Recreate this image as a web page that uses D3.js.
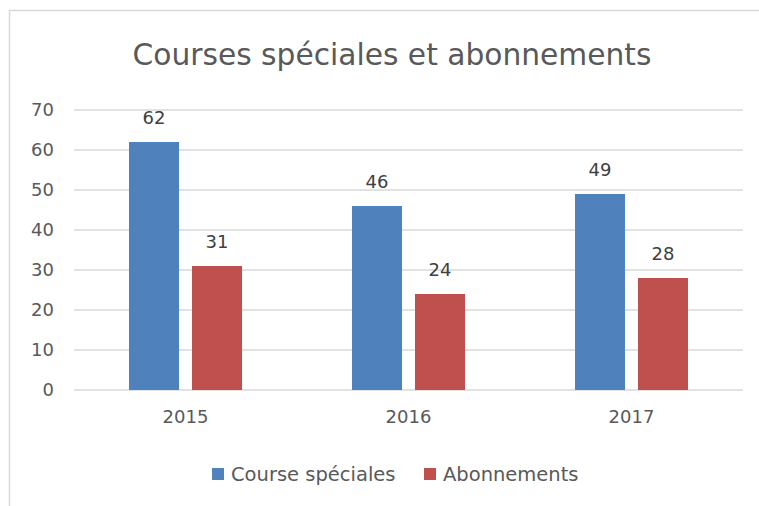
<!DOCTYPE html>
<html>
<head>
<meta charset="utf-8">
<script src="https://cdn.jsdelivr.net/npm/d3@7"></script>
<style>
  body { margin: 0; background: #fff; }
  text { font-family: "DejaVu Sans", sans-serif; }
</style>
</head>
<body>
<div id="chart"></div>
<script>
// chart data
var years = ["2015", "2016", "2017"];
var seriesNames = ["Course spéciales", "Abonnements"];
var speciales = [62, 46, 49];
var abonnements = [31, 24, 28];
var yTicks = [0, 10, 20, 30, 40, 50, 60, 70];

var colors = ["#4f81bd", "#c0504d"];
var textColor = "#595959";
var font = "'DejaVu Sans', sans-serif";

var svg = d3.select("#chart")
  .append("svg")
  .attr("width", 759)
  .attr("height", 506);

// frame of the chart area (only left and top are visible)
svg.append("path")
  .attr("d", "M9.5,506 L9.5,10.5 L759,10.5")
  .attr("fill", "none")
  .attr("stroke", "#d9d9d9")
  .attr("stroke-width", 1.5);

svg.append("text")
  .attr("x", 392)
  .attr("y", 65)
  .style("text-anchor", "middle")
  .style("font-size", "29.7px")
  .style("fill", textColor)
  .text("Courses spéciales et abonnements");

var x0 = d3.scaleBand()
  .domain(years)
  .range([74, 743])
  .padding(0);

var x1 = d3.scaleBand()
  .domain(seriesNames)
  .range([0, x0.bandwidth()])
  .paddingInner(0.206)
  .paddingOuter(0.873);

var y = d3.scaleLinear()
  .domain([0, 70])
  .range([390, 110]);

// gridlines
svg.append("g")
  .selectAll("line")
  .data(yTicks)
  .enter().append("line")
  .attr("x1", 74)
  .attr("x2", 743)
  .attr("y1", function(d) { return y(d); })
  .attr("y2", function(d) { return y(d); })
  .attr("stroke", "#d9d9d9")
  .attr("stroke-width", 1.5);

// y axis labels
var yAxis = d3.axisLeft(y).tickValues(yTicks).tickSize(0).tickPadding(0);
var gy = svg.append("g")
  .attr("transform", "translate(54,0)")
  .call(yAxis);
gy.select(".domain").remove();
gy.selectAll("text")
  .style("font-size", "18px")
  .style("fill", textColor)
  .style("font-family", font);

// x axis labels
var xAxis = d3.axisBottom(x0).tickSize(0).tickPadding(0);
var gx = svg.append("g")
  .attr("transform", "translate(0,410)")
  .call(xAxis);
gx.select(".domain").remove();
gx.selectAll("text")
  .style("font-size", "18px")
  .style("fill", textColor)
  .style("font-family", font);

var rows = [];
years.forEach(function(yr, i) {
  rows.push({ year: yr, s: 0, v: speciales[i] });
  rows.push({ year: yr, s: 1, v: abonnements[i] });
});

var bars = svg.append("g")
  .selectAll("g")
  .data(rows)
  .enter().append("g");

bars.append("rect")
  .attr("x", function(d) { return x0(d.year) + x1(seriesNames[d.s]); })
  .attr("y", function(d) { return y(d.v); })
  .attr("width", x1.bandwidth())
  .attr("height", function(d) { return y(0) - y(d.v); })
  .style("fill", function(d) { return colors[d.s]; });

bars.append("text")
  .attr("x", function(d) { return x0(d.year) + x1(seriesNames[d.s]) + x1.bandwidth() / 2; })
  .attr("y", function(d) { return y(d.v) - 18; })
  .style("text-anchor", "middle")
  .style("font-size", "18px")
  .style("fill", "#404040")
  .text(function(d) { return d.v; });

// legend
var legendX = [212, 424];
var legend = svg.append("g")
  .selectAll("g")
  .data(seriesNames)
  .enter().append("g")
  .attr("transform", function(d, i) { return "translate(" + legendX[i] + ",474)"; });

legend.append("rect")
  .attr("x", 0)
  .attr("y", -6)
  .attr("width", 12)
  .attr("height", 12)
  .style("fill", function(d, i) { return colors[i]; });

legend.append("text")
  .attr("x", 19)
  .attr("y", 0)
  .attr("dy", ".35em")
  .style("font-size", "19.5px")
  .style("fill", textColor)
  .text(function(d) { return d; });
</script>
</body>
</html>
